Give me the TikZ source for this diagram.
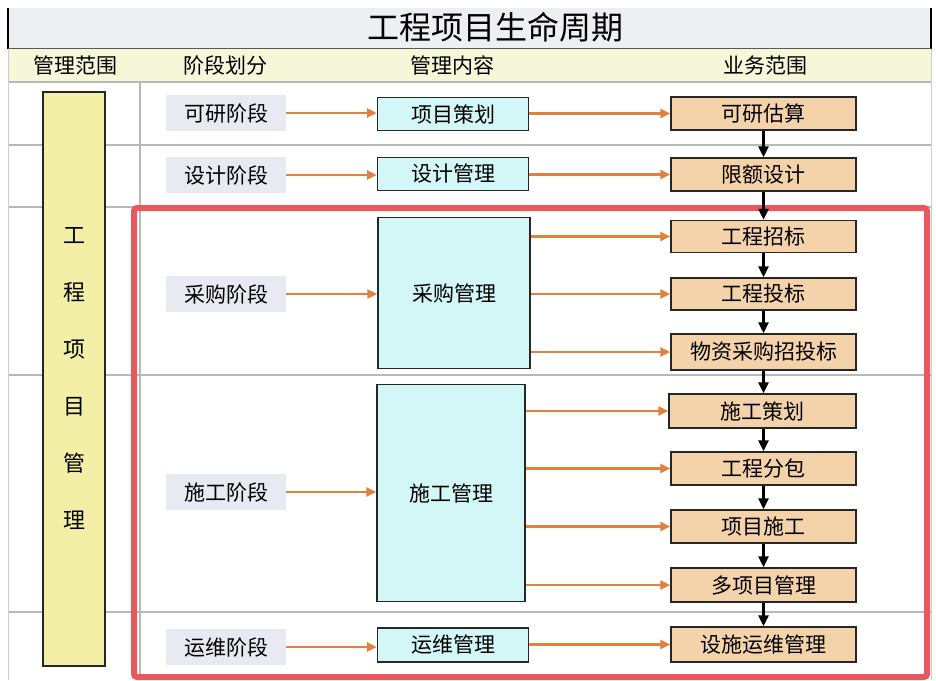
\documentclass[tikz,border=0pt]{standalone}
\usepackage{fontspec}
\setmainfont{Noto Sans CJK SC}
\usetikzlibrary{arrows.meta}
\definecolor{titlebg}{HTML}{EDF0F3}
\definecolor{headbg}{HTML}{F6F6D9}
\definecolor{gridgray}{HTML}{B8B8B8}
\definecolor{scopeyellow}{HTML}{F3EFA6}
\definecolor{phasebg}{HTML}{E7EBF1}
\definecolor{mgmtcyan}{HTML}{D3F6F7}
\definecolor{biztan}{HTML}{F5D3AA}
\definecolor{flow}{HTML}{E0823F}
\definecolor{framered}{HTML}{E8585C}
\begin{document}
\begin{tikzpicture}[x=1pt,y=-1pt,every node/.style={font=\fontsize{21}{25}\selectfont},
 phase/.style={fill=phasebg,minimum width=120pt,minimum height=36pt,inner sep=0pt},
 mgmt/.style={draw=black!85,line width=1.5pt,fill=mgmtcyan,minimum width=151pt,minimum height=33pt,inner sep=0pt},
 biz/.style={draw=black!85,line width=1.5pt,fill=biztan,minimum width=185pt,minimum height=33pt,inner sep=0pt},
 feed/.style={draw=flow,line width=2.6pt,-{Triangle[width=9pt,length=10pt]}},
 seq/.style={draw=black,line width=2.6pt,-{Triangle[width=10pt,length=11pt]}},
 grid line/.style={draw=gridgray,line width=1.5pt}]
 \useasboundingbox (0,0) rectangle (936,680);
 % table
 \fill[white] (0,0) rectangle (936,680);
 \fill[titlebg] (8,8) rectangle (931,48);
 \fill[headbg] (8,49) rectangle (931,82);
 \draw[grid line] (8,82) -- (931,82);
 \draw[grid line] (8,145) -- (931,145);
 \draw[grid line] (8,207) -- (931,207);
 \draw[grid line] (8,375) -- (931,375);
 \draw[grid line] (8,612) -- (931,612);
 \draw[grid line] (140,82) -- (140,680);
 \draw[gridgray!70,line width=1pt] (8,48) -- (8,680);
 \draw[gridgray!70,line width=1pt] (931,48) -- (931,680);
 \draw[line width=1.5pt] (8,8) -- (8,49);
 \draw[line width=1.5pt] (931,8) -- (931,49);
 \draw[black!65,line width=1.6pt] (8,48.5) -- (931,48.5);
 \node (title) at (495,27) {\fontsize{32}{34}\selectfont 工程项目生命周期};
 \node (hscope) at (75,65) {管理范围};
 \node (hphase) at (225,65) {阶段划分};
 \node (hmgmt) at (452,65) {管理内容};
 \node (hbiz) at (765,65) {业务范围};
 % red frame
 \draw[framered,line width=6pt,rounded corners=3pt] (134,208) rectangle (927,677);
 \node[draw=black!85,line width=1.5pt,fill=scopeyellow,minimum width=62pt,minimum height=574pt,inner sep=0pt,align=center,font=\fontsize{22}{57}\selectfont] (scope) at (74,379) {工\\程\\项\\目\\管\\理};
 % phases
 \node[phase] (study) at (226,113) {可研阶段};
 \node[phase] (design) at (226,175) {设计阶段};
 \node[phase] (purchase) at (226,294) {采购阶段};
 \node[phase] (build) at (226,492) {施工阶段};
 \node[phase] (operate) at (226,647) {运维阶段};
 % management
 \node[mgmt] (plan) at (453,114) {项目策划};
 \node[mgmt] (designmg) at (453,174) {设计管理};
 \node[mgmt,minimum width=152pt,minimum height=151pt] (purchasemg) at (454,293) {采购管理};
 \node[mgmt,minimum width=148pt,minimum height=217pt] (buildmg) at (451,493) {施工管理};
 \node[mgmt,minimum height=34pt] (operatemg) at (453,645) {运维管理};
 % business
 \node[biz] (estimate) at (763.5,113.5) {可研估算};
 \node[biz] (limit) at (763.5,174.5) {限额设计};
 \node[biz,minimum height=32pt] (tender) at (763.5,236.5) {工程招标};
 \node[biz,minimum height=32pt] (bid) at (763.5,294) {工程投标};
 \node[biz,minimum height=36pt] (material) at (763.5,352) {物资采购招投标};
 \node[biz,minimum width=187pt,minimum height=34pt] (buildplan) at (762.5,411) {施工策划};
 \node[biz] (subcon) at (763.5,468.5) {工程分包};
 \node[biz] (construct) at (763.5,526.5) {项目施工};
 \node[biz,minimum height=34pt] (multi) at (763.5,585) {多项目管理};
 \node[biz,minimum height=35pt] (facility) at (763.5,644.5) {设施运维管理};
 % phase -> management
 \draw[feed] (study.east) -- (study.east -| plan.west);
 \draw[feed] (design.east) -- (design.east -| designmg.west);
 \draw[feed] (purchase.east) -- (purchase.east -| purchasemg.west);
 \draw[feed] (build.east) -- (build.east -| buildmg.west);
 \draw[feed] (operate.east) -- (operate.east -| operatemg.west);
 % management -> business
 \draw[feed] (plan.east |- estimate.west) -- (estimate.west);
 \draw[feed] (designmg.east |- limit.west) -- (limit.west);
 \foreach \b in {tender,bid,material}
  \draw[feed] (purchasemg.east |- \b.west) -- (\b.west);
 \foreach \b in {buildplan,subcon,construct,multi}
  \draw[feed] (buildmg.east |- \b.west) -- (\b.west);
 \draw[feed] (operatemg.east |- facility.west) -- (facility.west);
 % business sequence
 \foreach \a/\b in {estimate/limit,limit/tender,tender/bid,bid/material,material/buildplan,buildplan/subcon,subcon/construct,construct/multi,multi/facility}
  \draw[seq] (\a.south -| estimate.south) -- (\b.north -| estimate.north);
\end{tikzpicture}
\end{document}
